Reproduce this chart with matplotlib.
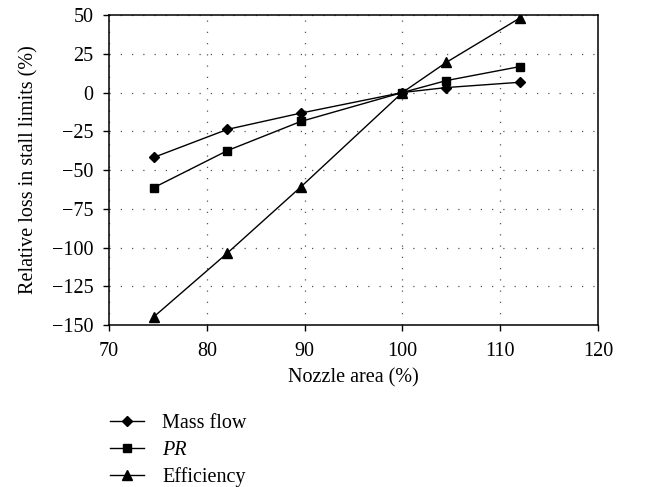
import matplotlib
matplotlib.use('Agg')
import matplotlib.pyplot as plt

# 数据：喷嘴面积 (%) 与失速极限相对损失 (%)
nozzle_area = [74.6, 82.1, 89.6, 100.0, 104.5, 112.0]
mass_flow = [-41.8, -23.8, -13.3, 0.0, 3.2, 6.6]
pr = [-61.3, -37.5, -18.7, 0.0, 7.7, 16.7]
efficiency = [-144.6, -103.6, -61.0, 0.0, 19.5, 48.0]

x_ticks = [70, 80, 90, 100, 110, 120]
y_ticks = [50, 25, 0, -25, -50, -75, -100, -125, -150]

plt.rcParams['font.family'] = ['Liberation Serif', 'DejaVu Serif']
plt.rcParams['font.size'] = 14.5
plt.rcParams['axes.unicode_minus'] = True

fig = plt.figure(figsize=(6.63, 4.87), dpi=100)
ax = fig.add_axes([0.1644, 0.3326, 0.7376, 0.6366])

ax.plot(nozzle_area, mass_flow, color='black', lw=1.0, marker='D', ms=5, label='Mass flow')
ax.plot(nozzle_area, pr, color='black', lw=1.0, marker='s', ms=5.5, label='PR')
ax.plot(nozzle_area, efficiency, color='black', lw=1.0, marker='^', ms=7, label='Efficiency')

ax.set_xlim(70, 120)
ax.set_ylim(-150, 50)
ax.set_xticks(x_ticks)
ax.set_yticks(y_ticks)
ax.grid(True, color='#555555', lw=0.9, linestyle=(0, (1, 8)))
ax.tick_params(direction='out', length=4, width=1, color='black')
ax.tick_params(axis='x', pad=8.3)
ax.tick_params(axis='y', pad=7)
for s in ax.spines.values():
    s.set_linewidth(1.1)

ax.set_xlabel('Nozzle area (%)', labelpad=5)
ax.set_ylabel('Relative loss in stall limits (%)', labelpad=10)

leg = fig.legend(loc='upper left', bbox_to_anchor=(110 / 663, 1 - 414 / 487), frameon=False,
                 handlelength=1.69, handletextpad=0.9, labelspacing=0.38, borderpad=0,
                 borderaxespad=0)
leg.get_texts()[1].set_fontstyle('italic')

fig.savefig('out.png', dpi=100)
